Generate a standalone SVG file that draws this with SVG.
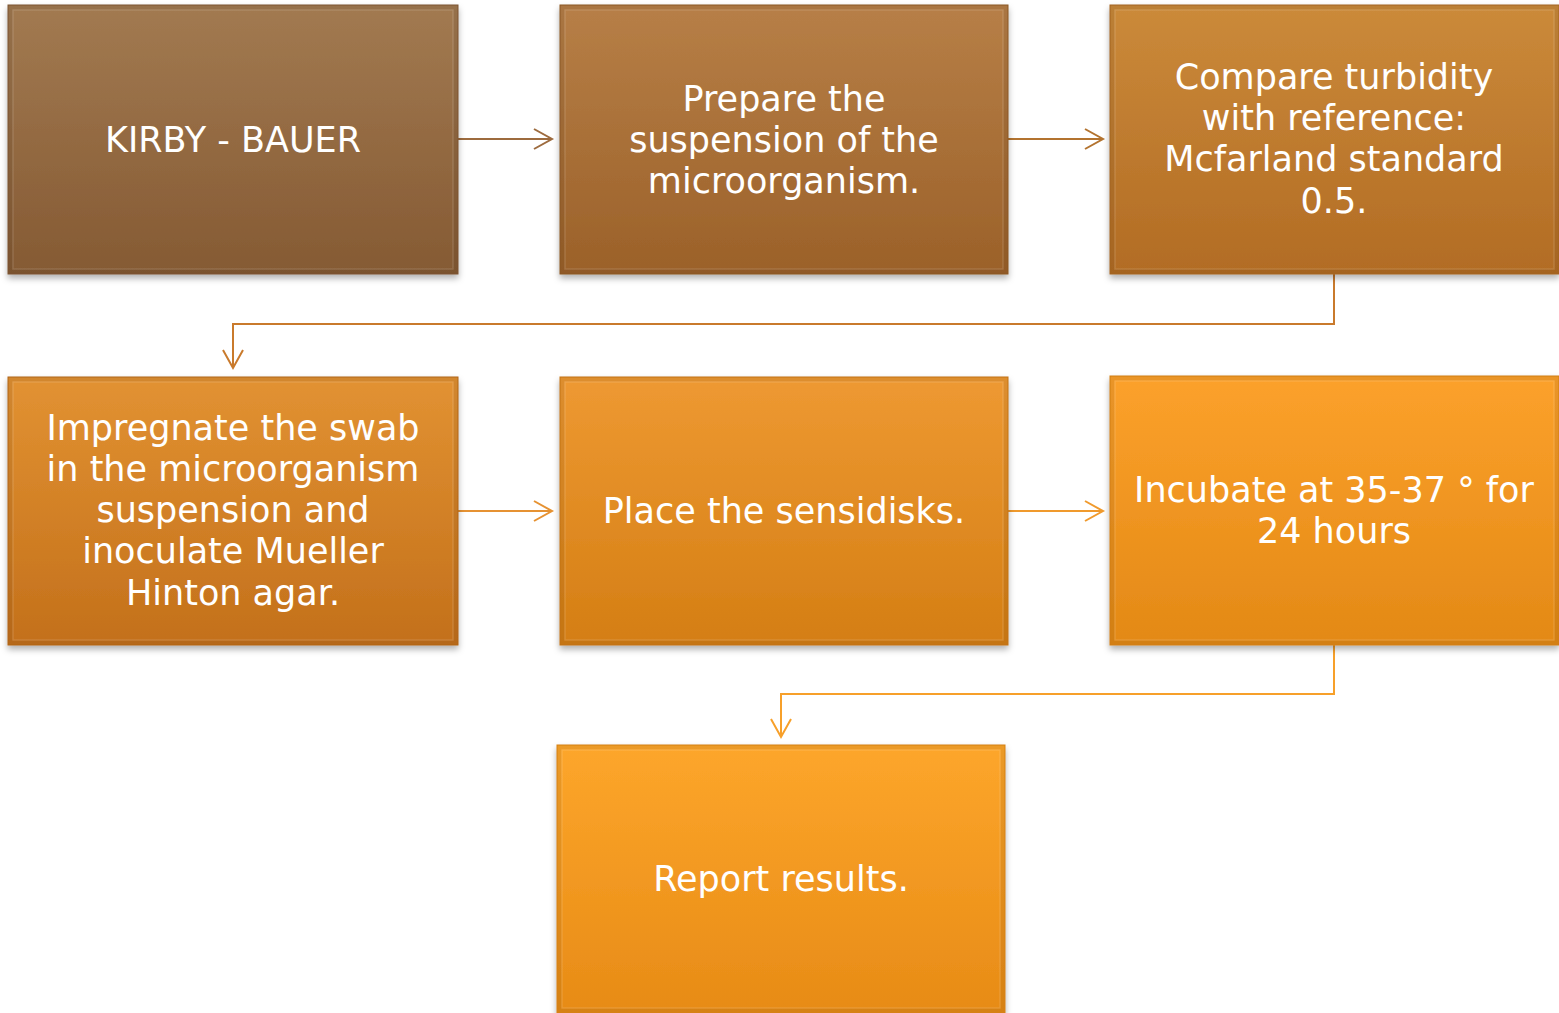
<svg xmlns="http://www.w3.org/2000/svg" width="1559" height="1013" viewBox="0 0 1559 1013">
<style>
.lbl{font-family:"DejaVu Sans","Liberation Sans",sans-serif;font-size:35px;fill:#ffffff;text-anchor:middle}
.box{filter:url(#sh)}
.bev{fill:none;stroke:#000000;stroke-opacity:0.07;stroke-width:4}
.hl{fill:none;stroke:#ffffff;stroke-opacity:0.12;stroke-width:1.5}
.edge{fill:none;stroke-width:2}
</style>
<defs>
<filter id="sh" x="-10%" y="-10%" width="120%" height="125%">
<feDropShadow dx="0" dy="4" stdDeviation="3" flood-color="#000" flood-opacity="0.3"/>
</filter>
<linearGradient id="g1" x1="0" y1="0" x2="0" y2="1"><stop offset="0" stop-color="#a27a51"/><stop offset="1" stop-color="#855a33"/></linearGradient>
<linearGradient id="g2" x1="0" y1="0" x2="0" y2="1"><stop offset="0" stop-color="#b77f47"/><stop offset="1" stop-color="#9b6129"/></linearGradient>
<linearGradient id="g3" x1="0" y1="0" x2="0" y2="1"><stop offset="0" stop-color="#cb8a3a"/><stop offset="1" stop-color="#b26c24"/></linearGradient>
<linearGradient id="g4" x1="0" y1="0" x2="0" y2="1"><stop offset="0" stop-color="#e29232"/><stop offset="1" stop-color="#c3701b"/></linearGradient>
<linearGradient id="g5" x1="0" y1="0" x2="0" y2="1"><stop offset="0" stop-color="#ee9932"/><stop offset="1" stop-color="#d47e14"/></linearGradient>
<linearGradient id="g6" x1="0" y1="0" x2="0" y2="1"><stop offset="0" stop-color="#fca12b"/><stop offset="1" stop-color="#e38916"/></linearGradient>
<linearGradient id="g7" x1="0" y1="0" x2="0" y2="1"><stop offset="0" stop-color="#fda62b"/><stop offset="1" stop-color="#e78b16"/></linearGradient>
<marker id="m1" markerUnits="userSpaceOnUse" markerWidth="22" markerHeight="24" refX="19" refY="11" orient="auto"><path d="M1,1 L19,11 L1,21" fill="none" stroke="#9d6b3e" stroke-width="2"/></marker>
<marker id="m2" markerUnits="userSpaceOnUse" markerWidth="22" markerHeight="24" refX="19" refY="11" orient="auto"><path d="M1,1 L19,11 L1,21" fill="none" stroke="#b3732f" stroke-width="2"/></marker>
<marker id="m3" markerUnits="userSpaceOnUse" markerWidth="22" markerHeight="24" refX="19" refY="11" orient="auto"><path d="M1,1 L19,11 L1,21" fill="none" stroke="#c97a2c" stroke-width="2"/></marker>
<marker id="m4" markerUnits="userSpaceOnUse" markerWidth="22" markerHeight="24" refX="19" refY="11" orient="auto"><path d="M1,1 L19,11 L1,21" fill="none" stroke="#e69232" stroke-width="2"/></marker>
<marker id="m5" markerUnits="userSpaceOnUse" markerWidth="22" markerHeight="24" refX="19" refY="11" orient="auto"><path d="M1,1 L19,11 L1,21" fill="none" stroke="#f09a2d" stroke-width="2"/></marker>
<marker id="m6" markerUnits="userSpaceOnUse" markerWidth="22" markerHeight="24" refX="19" refY="11" orient="auto"><path d="M1,1 L19,11 L1,21" fill="none" stroke="#f7a02a" stroke-width="2"/></marker>
</defs>
<rect width="1559" height="1013" fill="#ffffff"/>
<g id="connectors">
<path class="edge" d="M458,139 H552" stroke="#9d6b3e" marker-end="url(#m1)"/>
<path class="edge" d="M1008,139 H1103" stroke="#b3732f" marker-end="url(#m2)"/>
<path class="edge" d="M1334,274 V324 H233 V368" stroke="#c97a2c" marker-end="url(#m3)"/>
<path class="edge" d="M458,511 H552" stroke="#e69232" marker-end="url(#m4)"/>
<path class="edge" d="M1008,511 H1103" stroke="#f09a2d" marker-end="url(#m5)"/>
<path class="edge" d="M1334,645 V694 H781 V737" stroke="#f7a02a" marker-end="url(#m6)"/>
</g>
<g id="n1">
<rect class="box" x="8" y="5" width="450" height="269" fill="url(#g1)" stroke="#7a5330" stroke-width="1"/>
<rect class="bev" x="10.5" y="7.5" width="445" height="264"/>
<rect class="hl" x="13" y="10" width="440" height="259"/>
<text class="lbl" x="233" y="152">KIRBY - BAUER</text>
</g>
<g id="n2">
<rect class="box" x="560" y="5" width="448" height="269" fill="url(#g2)" stroke="#8a5727" stroke-width="1"/>
<rect class="bev" x="562.5" y="7.5" width="443" height="264"/>
<rect class="hl" x="565" y="10" width="438" height="259"/>
<text class="lbl" x="784" y="111">Prepare the</text>
<text class="lbl" x="784" y="152">suspension of the</text>
<text class="lbl" x="784" y="193">microorganism.</text>
</g>
<g id="n3">
<rect class="box" x="1110" y="5" width="449" height="269" fill="url(#g3)" stroke="#a26321" stroke-width="1"/>
<rect class="bev" x="1112.5" y="7.5" width="444" height="264"/>
<rect class="hl" x="1115" y="10" width="439" height="259"/>
<text class="lbl" x="1334" y="89">Compare turbidity</text>
<text class="lbl" x="1334" y="130">with reference:</text>
<text class="lbl" x="1334" y="171">Mcfarland standard</text>
<text class="lbl" x="1334" y="213">0.5.</text>
</g>
<g id="n4">
<rect class="box" x="8" y="377" width="450" height="268" fill="url(#g4)" stroke="#b06419" stroke-width="1"/>
<rect class="bev" x="10.5" y="379.5" width="445" height="263"/>
<rect class="hl" x="13" y="382" width="440" height="258"/>
<text class="lbl" x="233" y="440">Impregnate the swab</text>
<text class="lbl" x="233" y="481">in the microorganism</text>
<text class="lbl" x="233" y="522">suspension and</text>
<text class="lbl" x="233" y="563">inoculate Mueller</text>
<text class="lbl" x="233" y="605">Hinton agar.</text>
</g>
<g id="n5">
<rect class="box" x="560" y="377" width="448" height="268" fill="url(#g5)" stroke="#c27213" stroke-width="1"/>
<rect class="bev" x="562.5" y="379.5" width="443" height="263"/>
<rect class="hl" x="565" y="382" width="438" height="258"/>
<text class="lbl" x="784" y="523">Place the sensidisks.</text>
</g>
<g id="n6">
<rect class="box" x="1110" y="376" width="449" height="269" fill="url(#g6)" stroke="#d07c14" stroke-width="1"/>
<rect class="bev" x="1112.5" y="378.5" width="444" height="264"/>
<rect class="hl" x="1115" y="381" width="439" height="259"/>
<text class="lbl" x="1334" y="502">Incubate at 35-37 ° for</text>
<text class="lbl" x="1334" y="543">24 hours</text>
</g>
<g id="n7">
<rect class="box" x="557" y="745" width="448" height="268" fill="url(#g7)" stroke="#d48015" stroke-width="1"/>
<rect class="bev" x="559.5" y="747.5" width="443" height="263"/>
<rect class="hl" x="562" y="750" width="438" height="258"/>
<text class="lbl" x="781" y="891">Report results.</text>
</g>
</svg>
